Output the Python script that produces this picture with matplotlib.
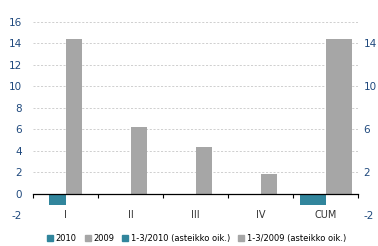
import numpy as np
import matplotlib.pyplot as plt
from matplotlib.patches import Patch

categories = ['I', 'II', 'III', 'IV', 'CUM']
v2010 = [-1.1, np.nan, np.nan, np.nan, np.nan]
v2009 = [14.4, 6.2, 4.3, 1.8, np.nan]
cum2010 = [np.nan, np.nan, np.nan, np.nan, -1.1]
cum2009 = [np.nan, np.nan, np.nan, np.nan, 14.4]
left_ticks = [-2, 0, 2, 4, 6, 8, 10, 12, 14, 16]
right_ticks = [-2, 2, 6, 10, 14]
labels = ['2010', '2009', '1-3/2010 (asteikko oik.)', '1-3/2009 (asteikko oik.)']

teal = '#31859C'
grey = '#A6A6A6'
blue = '#1F497D'

fig = plt.figure(figsize=(3.78, 2.46), dpi=100)
ax = fig.add_axes([33 / 378, 31 / 246, 325 / 378, 193 / 246])
x = np.arange(len(categories))

# primary series (narrow bars), secondary series (wide bars)
ax.bar(x - 0.125, v2010, 0.25, color=teal, zorder=2)
ax.bar(x + 0.125, v2009, 0.25, color=grey, zorder=2)
ax.bar(x - 0.2, cum2010, 0.4, color=teal, zorder=2)
ax.bar(x + 0.2, cum2009, 0.4, color=grey, zorder=2)

ax.set_xlim(-0.5, len(categories) - 0.5)
ax.set_ylim(-2, 16)
ax.set_yticks(left_ticks)
ax.set_yticklabels([str(t) for t in left_ticks])
ax.tick_params(axis='y', length=0, pad=8, labelsize=7.5, labelcolor=blue)
ax.yaxis.grid(True, linestyle=(0, (2.5, 2)), color='#C8C8C8', linewidth=0.6, zorder=0)
ax.set_axisbelow(True)

for s in ['left', 'right', 'top']:
    ax.spines[s].set_visible(False)
ax.spines['bottom'].set_position(('data', 0))
ax.spines['bottom'].set_linewidth(0.9)
ax.spines['bottom'].set_zorder(3)

ax.set_xticks(x)
ax.set_xticklabels(categories)
ax.tick_params(axis='x', which='major', length=0, pad=12, labelsize=7, labelcolor='#333333')
ax.set_xticks(np.arange(len(categories) + 1) - 0.5, minor=True)
ax.tick_params(axis='x', which='minor', length=3, direction='out', width=0.8)

ax2 = ax.twinx()
ax2.set_ylim(-2, 16)
ax2.set_yticks(right_ticks)
ax2.set_yticklabels([str(t) for t in right_ticks])
ax2.tick_params(axis='y', length=0, pad=4, labelsize=7.5, labelcolor=blue)
for s in ax2.spines.values():
    s.set_visible(False)

handles = [Patch(color=teal), Patch(color=grey), Patch(color=teal), Patch(color=grey)]
fig.legend(handles, labels, loc='center', bbox_to_anchor=(0.52, 0.03), ncol=4,
           frameon=False, fontsize=6, handlelength=0.7, handleheight=0.7,
           handletextpad=0.3, columnspacing=1.0)

fig.savefig('out.png', dpi=100)
